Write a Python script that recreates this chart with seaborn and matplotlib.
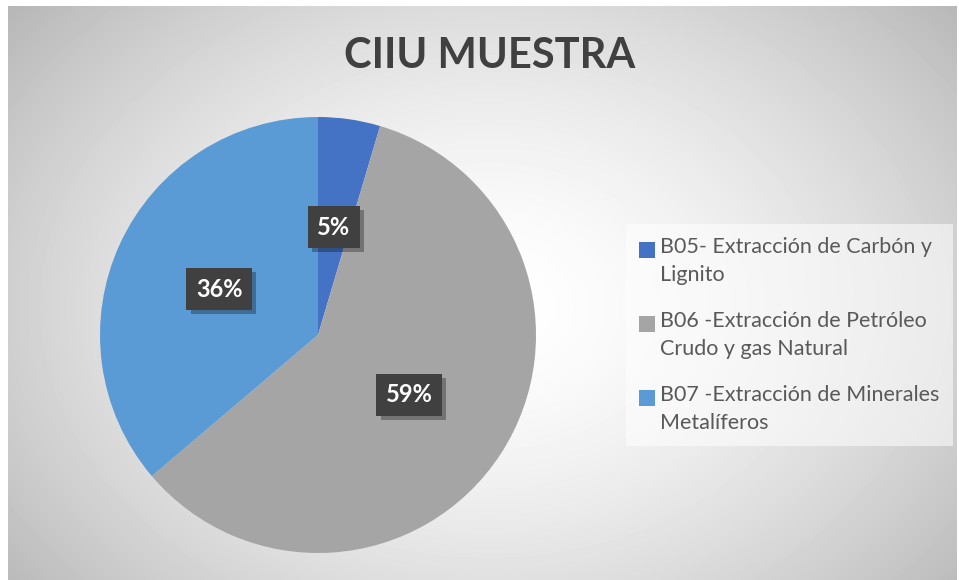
import matplotlib.pyplot as plt
import matplotlib.patheffects as pe
from matplotlib.patches import Patch
import numpy as np
import seaborn as sns

categories = [
    "B05- Extracción de Carbón y\nLignito",
    "B06 -Extracción de Petróleo\nCrudo y gas Natural",
    "B07 -Extracción de Minerales\nMetalíferos",
]
shares = [4.6, 59.2, 36.2]
colors = ["#4472C4", "#A5A5A5", "#5B9BD5"]

sns.set_theme(style="white")
plt.rcParams["font.family"] = ["Lato", "DejaVu Sans"]

W, H = 959, 580
fig = plt.figure(figsize=(W / 100, H / 100), dpi=100)
fig.patch.set_facecolor("white")

# radial gradient background for the chart area
x0, y0 = 8, 6
bg = fig.add_axes([x0 / W, 0, (W - x0 - 2) / W, (H - y0) / H])
yy, xx = np.mgrid[0:H - y0, 0:W - x0 - 2]
cx, cy = 480, 300
r = np.sqrt(((xx - cx) / 560) ** 2 + ((yy - cy) / 420) ** 2)
val = 1.0 - 0.24 * np.clip(r, 0, 1.3) ** 1.6
bg.imshow(val, cmap="gray", vmin=0, vmax=1, aspect="auto", interpolation="bilinear")
bg.axis("off")

# pie
cxp, cyp, rad = 318, 335, 218
ax = fig.add_axes([(cxp - rad) / W, 1 - (cyp + rad) / H, 2 * rad / W, 2 * rad / H])
wedges, texts, autotexts = ax.pie(
    shares,
    colors=colors,
    startangle=90,
    counterclock=False,
    autopct="%1.0f%%",
    pctdistance=0.5,
    wedgeprops=dict(linewidth=0),
)
ax.set_xlim(-1, 1)
ax.set_ylim(-1, 1)
ax.set_aspect("equal")
ax.axis("off")

for t in autotexts:
    t.set_color("white")
    t.set_fontsize(17)
    t.set_fontweight("bold")
    t.set_bbox(dict(boxstyle="square,pad=0.4", facecolor="#404040", edgecolor="none"))
    t.get_bbox_patch().set_path_effects(
        [pe.SimplePatchShadow(offset=(3, -3), shadow_rgbFace="black", alpha=0.3), pe.Normal()]
    )

fig.text(490 / W, 1 - 56 / H, "CIIU MUESTRA", ha="center", va="center",
         fontsize=30, fontweight="bold", color="#404040")

handles = [Patch(facecolor=c, edgecolor="none") for c in colors]
leg = fig.legend(
    handles, categories,
    loc="upper left",
    bbox_to_anchor=(626 / W, 1 - 224 / H),
    fontsize=15.5,
    labelcolor="#595959",
    frameon=True,
    fancybox=False,
    handlelength=0.75,
    handleheight=0.75,
    handletextpad=0.25,
    labelspacing=1.2,
    borderpad=0.6,
    borderaxespad=0,
)
for t in leg.get_texts():
    t.set_linespacing(1.5)
leg.get_frame().set_facecolor("white")
leg.get_frame().set_alpha(0.55)
leg.get_frame().set_edgecolor("none")
for h in leg.legend_handles:
    h.set_y(h.get_y() + 8)

fig.savefig("out.png", dpi=100)
